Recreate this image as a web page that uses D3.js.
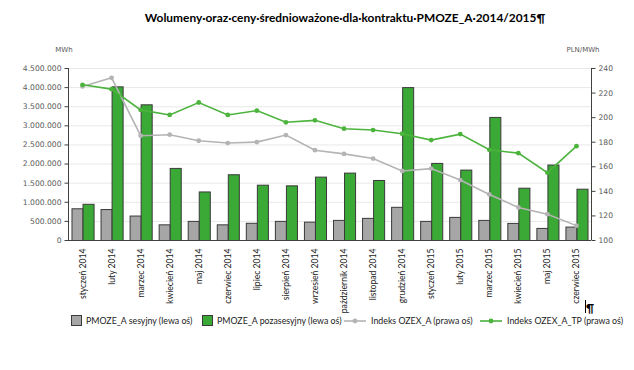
<!DOCTYPE html>
<html>
<head>
<meta charset="utf-8">
<script src="https://cdn.jsdelivr.net/npm/d3@7"></script>
<style>
  html, body { margin: 0; padding: 0; background: #fff; }
  #chart { width: 634px; height: 370px; }
</style>
</head>
<body>
<div id="chart"></div>
<script>
// ---- data ----
const months = [
  'styczeń 2014', 'luty 2014', 'marzec 2014', 'kwiecień 2014', 'maj 2014', 'czerwiec 2014',
  'lipiec 2014', 'sierpień 2014', 'wrzesień 2014', 'październik 2014', 'listopad 2014', 'grudzień 2014',
  'styczeń 2015', 'luty 2015', 'marzec 2015', 'kwiecień 2015', 'maj 2015', 'czerwiec 2015'
];
const sesyjny = [830000, 810000, 640000, 410000, 500000, 410000, 450000, 500000, 480000,
  526000, 579000, 868000, 500000, 605000, 526000, 447000, 316000, 351000];
const pozasesyjny = [947000, 4020000, 3550000, 1886000, 1270000, 1720000, 1447000, 1430000, 1658000,
  1763000, 1570000, 4000000, 2017000, 1842000, 3220000, 1368000, 1974000, 1342000];
const ozexA = [225, 232, 184.9, 185.7, 180.8, 178.9, 179.7, 185.4, 173.1,
  170.1, 166.3, 156.2, 158.1, 148.8, 137.1, 126.5, 121, 111.7];
const ozexATP = [226.3, 222.8, 205.9, 201.8, 211.9, 201.8, 205.3, 195.8, 197.4,
  190.6, 189.5, 186.5, 181.3, 186.2, 173.4, 170.7, 154.8, 176.4];
const leftTicks = [0, 500000, 1000000, 1500000, 2000000, 2500000, 3000000, 3500000, 4000000, 4500000];
const rightTicks = [100, 120, 140, 160, 180, 200, 220, 240];
const legendItems = [
  { label: 'PMOZE_A sesyjny (lewa oś)', type: 'bar', key: 'gray' },
  { label: 'PMOZE_A pozasesyjny (lewa oś)', type: 'bar', key: 'green' },
  { label: 'Indeks OZEX_A (prawa oś)', type: 'line', key: 'grayLine' },
  { label: 'Indeks OZEX_A_TP (prawa oś)', type: 'line', key: 'greenLine' }
];

const COLORS = {
  gray: '#a6a6a6',
  green: '#3aa935',
  grayLine: '#b4b4b4',
  greenLine: '#4cb33d',
  outline: '#3a3a3a',
  axis: '#404040',
  grid: '#e8e8e8',
  text: '#595959'
};

const W = 634, H = 370;
const plot = { left: 68, right: 591, top: 68, bottom: 240 };

const svg = d3.select('#chart').append('svg')
  .attr('width', W).attr('height', H);

// title
svg.append('text')
  .attr('x', 345).attr('y', 22)
  .attr('text-anchor', 'middle')
  .attr('font-family', 'Lato, sans-serif')
  .attr('font-weight', 'bold')
  .attr('font-size', '11.9px')
  .attr('fill', '#000')
  .text('Wolumeny·oraz·ceny·średnioważone·dla·kontraktu·PMOZE_A·2014/2015¶');

// unit labels
svg.append('text').attr('x', 64).attr('y', 52).attr('text-anchor', 'middle')
  .attr('font-family', 'DejaVu Sans, sans-serif').attr('font-size', '7px').attr('fill', COLORS.text)
  .text('MWh');
svg.append('text').attr('x', 583).attr('y', 52).attr('text-anchor', 'middle')
  .attr('font-family', 'DejaVu Sans, sans-serif').attr('font-size', '7px').attr('fill', COLORS.text)
  .text('PLN/MWh');

const x = d3.scaleBand().domain(months).range([plot.left, plot.right])
  .paddingInner(0.24).paddingOuter(0.12);
const xs = d3.scaleBand().domain(['s', 'p']).range([0, x.bandwidth()]);
const yL = d3.scaleLinear().domain([0, 4500000]).range([plot.bottom, plot.top]);
const yR = d3.scaleLinear().domain([100, 240]).range([plot.bottom, plot.top]);

// gridlines
svg.append('g').selectAll('line').data(leftTicks.slice(1)).join('line')
  .attr('x1', plot.left).attr('x2', plot.right)
  .attr('y1', d => yL(d) + 0.5).attr('y2', d => yL(d) + 0.5)
  .attr('stroke', COLORS.grid).attr('stroke-width', 1);

// bars
const barG = svg.append('g');
months.forEach((m, i) => {
  barG.append('rect')
    .attr('x', x(m) + xs('s') + 0.5).attr('y', yL(sesyjny[i]) + 0.5)
    .attr('width', xs.bandwidth()).attr('height', yL(0) - yL(sesyjny[i]))
    .attr('fill', COLORS.gray).attr('stroke', COLORS.outline).attr('stroke-width', 1);
  barG.append('rect')
    .attr('x', x(m) + xs('p') + 0.5).attr('y', yL(pozasesyjny[i]) + 0.5)
    .attr('width', xs.bandwidth()).attr('height', yL(0) - yL(pozasesyjny[i]))
    .attr('fill', COLORS.green).attr('stroke', COLORS.outline).attr('stroke-width', 1);
});

// lines
const cx = m => x(m) + x.bandwidth() / 2;
function drawLine(values, color) {
  const pts = months.map((m, i) => [cx(m), yR(values[i])]);
  svg.append('path').datum(pts)
    .attr('d', d3.line())
    .attr('fill', 'none').attr('stroke', color).attr('stroke-width', 1.6);
  svg.append('g').selectAll('circle').data(pts).join('circle')
    .attr('cx', d => d[0]).attr('cy', d => d[1]).attr('r', 2.4)
    .attr('fill', color);
}
drawLine(ozexA, COLORS.grayLine);
drawLine(ozexATP, COLORS.greenLine);

// axes
const axL = svg.append('g').attr('transform', `translate(${plot.left + 0.5},0)`)
  .call(d3.axisLeft(yL).tickValues(leftTicks).tickSize(4).tickPadding(3)
    .tickFormat(d => d3.format(',')(d).replace(/,/g, '.')));
const axR = svg.append('g').attr('transform', `translate(${plot.right + 0.5},0)`)
  .call(d3.axisRight(yR).tickValues(rightTicks).tickSize(4).tickPadding(3));
const axB = svg.append('g').attr('transform', `translate(0,${plot.bottom + 0.5})`)
  .call(d3.axisBottom(x).tickSize(0).tickPadding(7));

[axL, axR].forEach(a => {
  a.select('.domain').attr('d', `M0,${plot.top}V${plot.bottom}`);
  a.selectAll('text').attr('font-family', 'DejaVu Sans, sans-serif').attr('font-size', '7.6px').attr('fill', COLORS.text);
});
[axL, axR, axB].forEach(a => a.selectAll('line,path').attr('stroke', COLORS.axis));
axB.select('.domain').attr('d', `M${plot.left},0H${plot.right}`);
axB.selectAll('text')
  .attr('font-family', 'Lato, sans-serif').attr('font-size', '8.6px').attr('fill', '#222')
  .attr('text-anchor', 'end')
  .attr('transform', 'rotate(-90)')
  .attr('x', -8).attr('y', 0).attr('dy', '0.35em');

// legend
const legendX = [71, 202, 344, 480];
const lg = svg.append('g').attr('transform', 'translate(0,321)');
legendItems.forEach((it, i) => {
  const g = lg.append('g').attr('transform', `translate(${legendX[i]},0)`);
  let tx;
  if (it.type === 'bar') {
    g.append('rect').attr('x', 0.5).attr('y', -5.5).attr('width', 10).attr('height', 10)
      .attr('fill', COLORS[it.key]).attr('stroke', COLORS.outline).attr('stroke-width', 1);
    tx = 15;
  } else {
    g.append('line').attr('x1', 0).attr('x2', 22).attr('y1', 0).attr('y2', 0)
      .attr('stroke', COLORS[it.key]).attr('stroke-width', 1.6);
    g.append('circle').attr('cx', 11).attr('cy', 0).attr('r', 2.4).attr('fill', COLORS[it.key]);
    tx = 27;
  }
  g.append('text').attr('x', tx).attr('y', 0).attr('dy', '0.35em')
    .attr('font-family', 'Lato, sans-serif').attr('font-size', '8.8px').attr('fill', '#222')
    .text(it.label);
});

// pilcrow / cursor from the document
svg.append('line').attr('x1', 585.5).attr('x2', 585.5).attr('y1', 300).attr('y2', 313)
  .attr('stroke', '#000').attr('stroke-width', 1);
svg.append('text').attr('x', 586).attr('y', 312)
  .attr('font-family', 'Lato, sans-serif').attr('font-weight', 'bold').attr('font-size', '11px')
  .attr('fill', '#000').text('¶');
</script>
</body>
</html>
